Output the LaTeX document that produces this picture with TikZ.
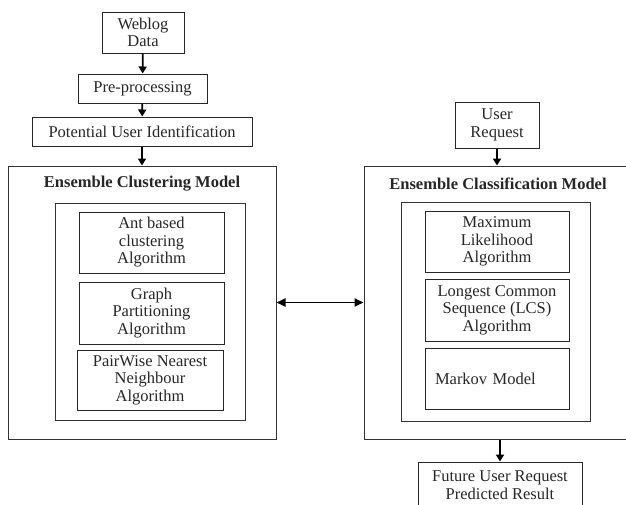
\documentclass[tikz,border=0pt]{standalone}
\usepackage{fontspec}
\setmainfont{Liberation Serif}
\usetikzlibrary{arrows.meta}
\begin{document}
\begin{tikzpicture}[x=1pt,y=-1pt,
  box/.style={draw=black!85, line width=1pt, inner sep=0pt, align=center, font=\fontsize{16.5}{17.5}\selectfont, text=black!85},
  frame/.style={draw=black!80, line width=1pt, inner sep=0pt},
  ttl/.style={font=\bfseries\fontsize{16.5}{17.5}\selectfont, text=black!85, inner sep=0pt},
  arr/.style={line width=1.8pt, -{Triangle[length=7pt,width=8pt]}},
  darr/.style={line width=1.8pt, {Triangle[length=9pt,width=8pt]}-{Triangle[length=9pt,width=8pt]}}]
\useasboundingbox (0,0) rectangle (626,504);
\clip (0,0) rectangle (626,504);
% left column
\node[box, minimum width=82pt, minimum height=41pt] (weblog) at (143,32.5) {Weblog\\Data};
\node[box, minimum width=129pt, minimum height=29pt] (pre) at (142.5,88.5) {Pre-processing};
\node[box, minimum width=220pt, minimum height=29pt] (pot) at (142,131.5) {Potential User Identification};
\node[frame, minimum width=268pt, minimum height=273pt] (outerL) at (142,302.5) {};
\node[ttl] (titleL) at (142,184) {Ensemble Clustering Model};
\node[frame, minimum width=190pt, minimum height=217pt] (innerL) at (150,311.5) {};
\node[box, minimum width=145pt, minimum height=61pt] (ant) at (151.5,242.5) {Ant based\\clustering\\Algorithm};
\node[box, minimum width=145pt, minimum height=62pt] (graph) at (151.5,313) {Graph\\Partitioning\\Algorithm};
\node[box, minimum width=146pt, minimum height=60pt] (pair) at (150,380) {PairWise Nearest\\Neighbour\\Algorithm};
% right column
\node[box, minimum width=84pt, minimum height=46pt] (user) at (497,125) {User\\Request};
\node[frame, minimum width=266pt, minimum height=273pt] (outerR) at (497,302.5) {};
\node[ttl] (titleR) at (498,184) {Ensemble Classification Model};
\node[frame, minimum width=189pt, minimum height=219pt] (innerR) at (495.5,311.5) {};
\node[box, minimum width=144pt, minimum height=61pt] (max) at (497,241.5) {Maximum\\Likelihood\\Algorithm};
\node[box, minimum width=144pt, minimum height=62pt] (lcs) at (497,310) {Longest Common\\Sequence (LCS)\\Algorithm};
\node[box, minimum width=144pt, minimum height=61pt, text width=124pt, align=left] (markov) at (497,378.5) {Markov Model};
\node[box, minimum width=164pt, minimum height=46pt] (future) at (500,485) {Future User Request\\Predicted Result};
% connectors
\draw[arr] (weblog) -- (pre);
\draw[arr] (pre) -- (pot);
\draw[arr] (pot) -- (outerL);
\draw[arr] (user.south) -- (user.south |- outerR.north);
\draw[arr] (future.north |- outerR.south) -- (future.north);
\draw[darr] (outerL.east) -- (outerR.west);
\end{tikzpicture}
\end{document}
